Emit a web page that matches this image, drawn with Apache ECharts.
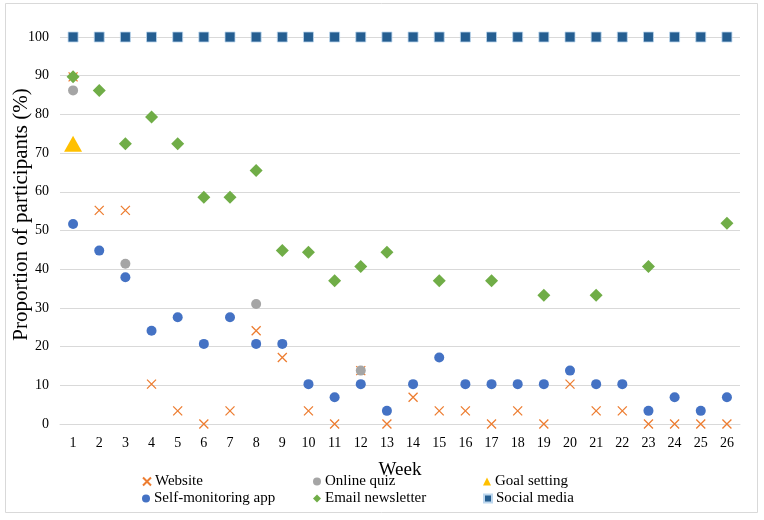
<!DOCTYPE html>
<html>
<head>
<meta charset="utf-8">
<script src="https://cdn.jsdelivr.net/npm/echarts@6/dist/echarts.min.js"></script>
<style>html,body{margin:0;padding:0;background:#fff;}#main{width:764px;height:520px;}</style>
</head>
<body>
<div id="main"></div>
<script>
var weeks = ['1','2','3','4','5','6','7','8','9','10','11','12','13','14','15','16','17','18','19','20','21','22','23','24','25','26'];
var yTicks = [0,10,20,30,40,50,60,70,80,90,100];
var website = [89.7,55.2,55.2,10.3,3.4,0,3.4,24.1,17.2,3.4,0,13.8,0,6.9,3.4,3.4,0,3.4,0,10.3,3.4,3.4,0,0,0,0];
var onlineQuiz = [86.2,null,41.4,null,null,null,null,31.0,null,null,null,13.8,null,null,null,null,null,null,null,null,null,null,null,null,null,null];
var goalSetting = [72.4,null,null,null,null,null,null,null,null,null,null,null,null,null,null,null,null,null,null,null,null,null,null,null,null,null];
var selfMonitoring = [51.7,44.8,37.9,24.1,27.6,20.7,27.6,20.7,20.7,10.3,6.9,10.3,3.4,10.3,17.2,10.3,10.3,10.3,10.3,13.8,10.3,10.3,3.4,6.9,3.4,6.9];
var emailNewsletter = [89.7,86.2,72.4,79.3,72.4,58.6,58.6,65.5,44.8,44.4,37.0,40.7,44.4,null,37.0,null,37.0,null,33.3,null,33.3,null,40.7,null,null,51.9];
var socialMedia = [100,100,100,100,100,100,100,100,100,100,100,100,100,100,100,100,100,100,100,100,100,100,100,100,100,100];

var FONT = 'Liberation Serif';
var crossPath = 'path://M0,0L10,10M10,0L0,10';
var chart = echarts.init(document.getElementById('main'), null, {renderer: 'canvas'});

function legend(name, left, top, icon) {
  var d = {name: name};
  if (icon) d.icon = icon;
  return {
    data: [d], left: left, top: top, itemWidth: 8, itemHeight: 8, itemGap: 4,
    padding: 0, selectedMode: false,
    textStyle: {fontFamily: FONT, fontSize: 15, color: '#000', padding: [0,0,0,-1]}
  };
}

chart.setOption({
  animation: false,
  backgroundColor: '#fff',
  graphic: [{
    type: 'rect', shape: {x: 5.5, y: 3.5, width: 752, height: 509},
    style: {fill: 'none', stroke: '#D9D9D9', lineWidth: 1}, silent: true, z: -1
  }],
  grid: {left: 60, right: 24, top: 37, bottom: 96, containLabel: false, outerBoundsMode: 'none'},
  legend: [
    legend('Website', 142, 474),
    legend('Online quiz', 313, 474, 'circle'),
    legend('Goal setting', 483, 474, 'triangle'),
    legend('Self-monitoring app', 142, 491, 'circle'),
    legend('Email newsletter', 313, 491, 'diamond'),
    legend('Social media', 483, 491, 'rect')
  ],
  xAxis: {
    type: 'category', data: weeks, boundaryGap: true,
    name: 'Week', nameLocation: 'middle', nameGap: 37, nameMoveOverlap: false,
    nameTextStyle: {fontFamily: FONT, fontSize: 19, color: '#000'},
    axisLine: {show: true, lineStyle: {color: '#D9D9D9', width: 1}},
    axisTick: {show: false},
    axisLabel: {fontFamily: FONT, fontSize: 14, color: '#000', margin: 12},
    splitLine: {show: false}
  },
  yAxis: {
    type: 'value', min: 0, max: 100, interval: 10,
    name: 'Proportion of participants (%)', nameLocation: 'middle', nameGap: 28, nameMoveOverlap: false,
    nameTextStyle: {fontFamily: FONT, fontSize: 21, color: '#000', padding: [0,0,0,32]},
    axisLine: {show: false}, axisTick: {show: false},
    axisLabel: {fontFamily: FONT, fontSize: 14, color: '#000', margin: 11},
    splitLine: {show: true, lineStyle: {color: '#D9D9D9', width: 1}}
  },
  series: [
    {name: 'Website', type: 'scatter', data: website, symbol: crossPath, symbolSize: 9,
     itemStyle: {color: 'rgba(0,0,0,0)', borderColor: '#ED7D31', borderWidth: 1.3, opacity: 1}, z: 2},
    {name: 'Online quiz', type: 'scatter', data: onlineQuiz, symbol: 'circle', symbolSize: 10,
     itemStyle: {color: '#A5A5A5', opacity: 1}, z: 3},
    {name: 'Goal setting', type: 'scatter', data: goalSetting, symbol: 'triangle', symbolSize: [18, 16],
     itemStyle: {color: '#FFC000', opacity: 1}, z: 4},
    {name: 'Self-monitoring app', type: 'scatter', data: selfMonitoring, symbol: 'circle', symbolSize: 10,
     itemStyle: {color: '#4472C4', opacity: 1}, z: 5},
    {name: 'Email newsletter', type: 'scatter', data: emailNewsletter, symbol: 'diamond', symbolSize: 13,
     itemStyle: {color: '#70AD47', opacity: 1}, z: 6},
    {name: 'Social media', type: 'scatter', data: socialMedia, symbol: 'rect', symbolSize: 10,
     itemStyle: {color: '#255E91', borderColor: '#BDD7EE', borderWidth: 0.8, opacity: 1}, z: 7}
  ]
});
</script>
</body>
</html>
